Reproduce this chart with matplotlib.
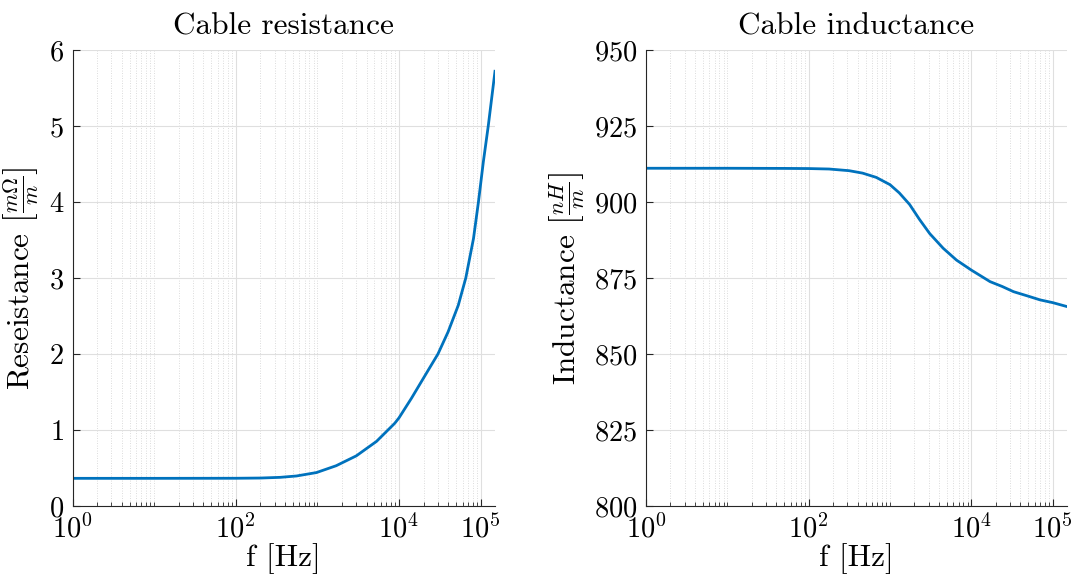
import numpy as np
import matplotlib
matplotlib.use("Agg")
import matplotlib.pyplot as plt
from matplotlib.ticker import FixedLocator, LogLocator, NullFormatter, LogFormatterSciNotation

plt.rcParams['font.family'] = 'serif'
plt.rcParams['font.serif'] = ['cmr10']
plt.rcParams['mathtext.fontset'] = 'cm'
plt.rcParams['axes.formatter.use_mathtext'] = True

# values
f_res = [1, 10, 100, 200, 350, 555, 975, 1700, 3000, 5300, 8860, 1e4, 1.42e4,
         2.26e4, 3e4, 3.99e4, 5.32e4, 6.58e4, 8.18e4, 9.4e4, 1.08e5,
         1.24e5, 1.5e5]
resistance = [0.364, 0.364, 0.365, 0.368, 0.377, 0.395, 0.44, 0.53, 0.66, 0.85,
              1.088, 1.16, 1.417, 1.78, 2.0, 2.29, 2.64, 3.0, 3.52, 4.0,
              4.53, 5.0, 5.72]

f_ind = [1, 10, 50, 100, 178, 314, 460, 676, 1000, 1300, 1740, 2300, 3080,
         4500, 6560, 1e4, 1.7e4, 2.4e4, 3.3e4, 4.9e4, 7e4, 1e5, 1.5e5]
inductance = [911.1, 911.1, 911.05, 911.0, 910.85, 910.3, 909.5, 908.1, 905.7,
              903.0, 899.2, 894.3, 889.6, 884.8, 880.9, 877.6, 873.8, 872.2,
              870.5, 869.1, 867.8, 866.9, 865.6]

x_ticks = [1, 1e2, 1e4, 1e5]
res_ticks = [0, 1, 2, 3, 4, 5, 6]
ind_ticks = [800, 825, 850, 875, 900, 925, 950]

line_color = '#0072BD'
axis_color = '#262626'

fig = plt.figure(figsize=(10.74, 5.85), dpi=100)
ax1 = fig.add_axes([72.5 / 1074, 79 / 585, 422.5 / 1074, 456 / 585])
ax2 = fig.add_axes([646 / 1074, 79 / 585, 421 / 1074, 456 / 585])


def style(ax):
    ax.set_xscale('log')
    ax.set_xlim(1, 1.5e5)
    ax.xaxis.set_major_locator(FixedLocator(x_ticks))
    ax.xaxis.set_major_formatter(LogFormatterSciNotation())
    ax.xaxis.set_minor_locator(LogLocator(base=10, subs=np.arange(1, 10), numticks=20))
    ax.xaxis.set_minor_formatter(NullFormatter())
    ax.grid(True, which='major', color='#dfdfdf', lw=0.8)
    ax.grid(True, which='minor', axis='x', color='#d0d0d0', lw=0.6, ls=(0, (1, 2)))
    ax.set_axisbelow(True)
    for s in ['top', 'right']:
        ax.spines[s].set_visible(False)
    for s in ['left', 'bottom']:
        ax.spines[s].set_color(axis_color)
        ax.spines[s].set_linewidth(0.8)
    ax.tick_params(which='both', direction='in', colors=axis_color, labelcolor='black',
                   labelsize=20.5)
    ax.tick_params(which='major', length=5)
    ax.tick_params(which='minor', length=3)
    ax.tick_params(axis='x', pad=6)
    ax.tick_params(axis='y', pad=6)
    ax.set_xlabel('f [Hz]', fontsize=22.5, labelpad=0)


ax1.plot(f_res, resistance, color=line_color, lw=2.0)
style(ax1)
ax1.set_ylim(0, 6)
ax1.set_yticks(res_ticks)
ax1.set_title('Cable resistance', fontsize=22.5, pad=11)
ax1.set_ylabel(r'Reseistance $\left[\frac{m\Omega}{m}\right]$', fontsize=22.5, labelpad=6)

ax2.plot(f_ind, inductance, color=line_color, lw=2.0)
style(ax2)
ax2.set_ylim(800, 950)
ax2.set_yticks(ind_ticks)
ax2.set_title('Cable inductance', fontsize=22.5, pad=11)
ax2.set_ylabel(r'Inductance $\left[\frac{nH}{m}\right]$', fontsize=22.5, labelpad=6)

fig.savefig('out.png', dpi=100)
